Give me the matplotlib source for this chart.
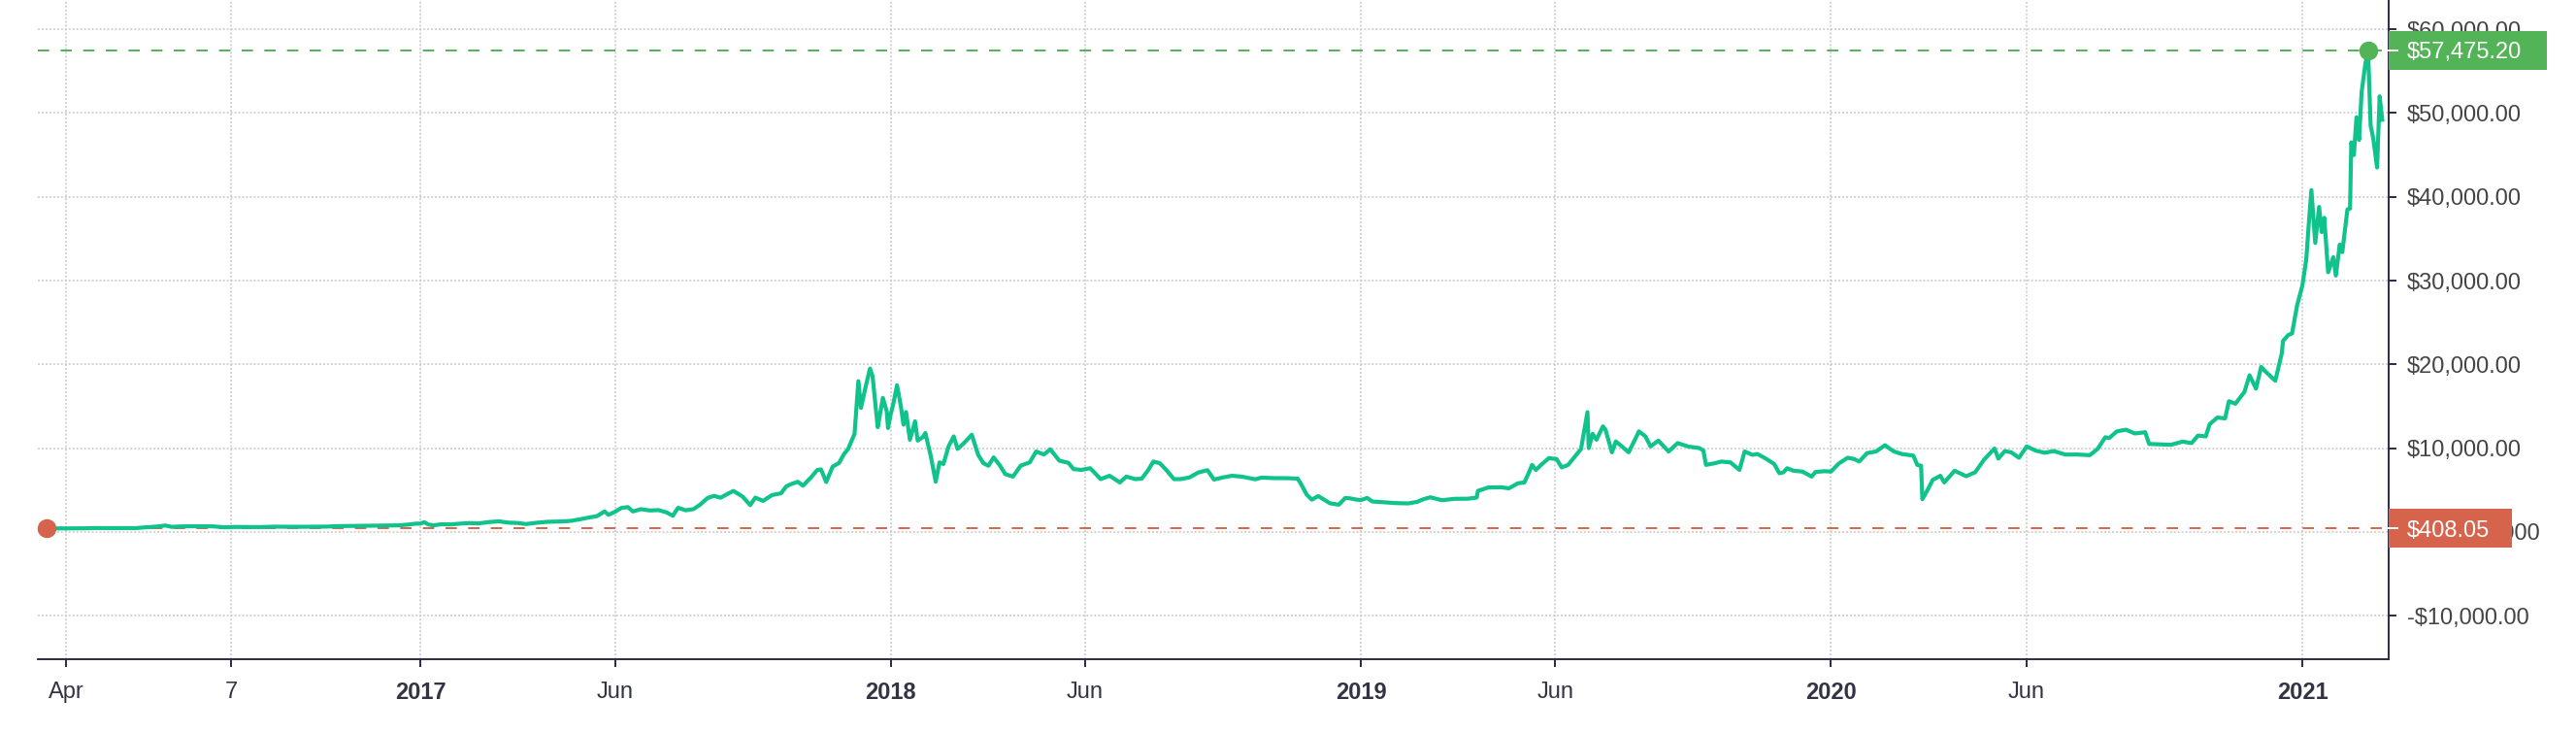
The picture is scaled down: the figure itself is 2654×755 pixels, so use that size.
import matplotlib
matplotlib.use("Agg")

import matplotlib.dates as mdates
import matplotlib.pyplot as plt
import pandas as pd
from matplotlib.patches import Rectangle

# daily-ish closing prices (USD)
dates_2016 = ["2016-03-17", "2016-03-26", "2016-04-05", "2016-04-15", "2016-04-25", "2016-05-05",
              "2016-05-15", "2016-05-25", "2016-05-31", "2016-06-06", "2016-06-12", "2016-06-17",
              "2016-06-22", "2016-06-28", "2016-07-06", "2016-07-14", "2016-07-24", "2016-08-02",
              "2016-08-10", "2016-08-20", "2016-08-30", "2016-09-10", "2016-09-20", "2016-09-30",
              "2016-10-10", "2016-10-20", "2016-10-28", "2016-11-05", "2016-11-15", "2016-11-25",
              "2016-12-05", "2016-12-15", "2016-12-22", "2016-12-28"]
prices_2016 = [408.05, 417, 421, 429, 461, 448, 456, 447, 531, 586, 665, 765, 596, 647, 671, 661,
               661, 547, 592, 581, 575, 623, 610, 609, 617, 631, 688, 703, 712, 738, 765, 780, 865, 976]

dates_2017 = ["2017-01-01", "2017-01-04", "2017-01-07", "2017-01-11", "2017-01-17", "2017-01-24",
              "2017-02-01", "2017-02-08", "2017-02-15", "2017-02-23", "2017-03-03", "2017-03-10",
              "2017-03-17", "2017-03-24", "2017-04-01", "2017-04-10", "2017-04-20", "2017-04-28",
              "2017-05-06", "2017-05-12", "2017-05-18", "2017-05-24", "2017-05-27", "2017-06-01",
              "2017-06-06", "2017-06-11", "2017-06-15", "2017-06-21", "2017-06-28", "2017-07-05",
              "2017-07-11", "2017-07-16", "2017-07-20", "2017-07-26", "2017-08-01", "2017-08-06",
              "2017-08-12", "2017-08-17", "2017-08-22", "2017-08-28", "2017-09-01", "2017-09-08",
              "2017-09-14", "2017-09-18", "2017-09-24", "2017-10-01", "2017-10-08", "2017-10-12",
              "2017-10-16", "2017-10-21", "2017-10-25", "2017-10-31", "2017-11-05", "2017-11-08",
              "2017-11-12", "2017-11-17", "2017-11-22", "2017-11-26", "2017-11-29", "2017-12-04",
              "2017-12-07", "2017-12-09", "2017-12-12", "2017-12-16", "2017-12-18", "2017-12-22",
              "2017-12-24", "2017-12-26", "2017-12-29", "2017-12-30"]
prices_2017 = [998, 1154, 895, 777, 908, 892, 989, 1055, 1010, 1170, 1260, 1110, 1070, 935, 1085,
               1210, 1240, 1320, 1540, 1720, 1880, 2440, 2040, 2400, 2860, 2960, 2440, 2710, 2560,
               2600, 2330, 1930, 2880, 2580, 2720, 3240, 4050, 4300, 4080, 4580, 4890, 4230, 3200,
               4090, 3700, 4400, 4610, 5430, 5720, 5980, 5520, 6470, 7380, 7460, 5950, 7790, 8230,
               9330, 9890, 11700, 18000, 14800, 16900, 19500, 18600, 12500, 14200, 16000, 14400, 12400]

dates_2018 = ["2018-01-01", "2018-01-03", "2018-01-06", "2018-01-09", "2018-01-11", "2018-01-13",
              "2018-01-16", "2018-01-20", "2018-01-22", "2018-01-26", "2018-01-28", "2018-02-01",
              "2018-02-05", "2018-02-08", "2018-02-11", "2018-02-15", "2018-02-19", "2018-02-22",
              "2018-02-27", "2018-03-05", "2018-03-10", "2018-03-14", "2018-03-18", "2018-03-22",
              "2018-03-27", "2018-03-31", "2018-04-06", "2018-04-12", "2018-04-19", "2018-04-24",
              "2018-04-30", "2018-05-05", "2018-05-12", "2018-05-19", "2018-05-23", "2018-05-29",
              "2018-06-05", "2018-06-10", "2018-06-13", "2018-06-20", "2018-06-28", "2018-07-03",
              "2018-07-10", "2018-07-15", "2018-07-20", "2018-07-24", "2018-07-29", "2018-08-03",
              "2018-08-09", "2018-08-14", "2018-08-21", "2018-08-28", "2018-09-04", "2018-09-09",
              "2018-09-16", "2018-09-23", "2018-10-01", "2018-10-11", "2018-10-16", "2018-10-25",
              "2018-11-05", "2018-11-13", "2018-11-16", "2018-11-20", "2018-11-24", "2018-11-29",
              "2018-12-03", "2018-12-08", "2018-12-15", "2018-12-20", "2018-12-24", "2018-12-28"]
prices_2018 = [14000, 15200, 17500, 15000, 12800, 14300, 11000, 13200, 10900, 11300, 11800, 9200,
               6000, 8300, 8100, 10200, 11400, 9900, 10600, 11600, 9200, 8200, 7900, 8900, 7900,
               6900, 6600, 7900, 8300, 9600, 9240, 9860, 8500, 8250, 7500, 7400, 7600, 6800, 6300,
               6700, 5900, 6600, 6300, 6360, 7380, 8400, 8200, 7400, 6300, 6300, 6500, 7100, 7370,
               6250, 6500, 6700, 6590, 6280, 6480, 6420, 6410, 6360, 5620, 4450, 3850, 4280, 3900,
               3420, 3250, 4050, 4000, 3870]

dates_2019 = ["2019-01-01", "2019-01-06", "2019-01-10", "2019-01-20", "2019-01-28", "2019-02-07",
              "2019-02-14", "2019-02-19", "2019-02-24", "2019-03-05", "2019-03-15", "2019-03-25",
              "2019-04-01", "2019-04-02", "2019-04-10", "2019-04-20", "2019-04-26", "2019-05-03",
              "2019-05-08", "2019-05-11", "2019-05-14", "2019-05-17", "2019-05-21", "2019-05-27",
              "2019-06-02", "2019-06-06", "2019-06-11", "2019-06-16", "2019-06-21", "2019-06-26",
              "2019-06-27", "2019-06-30", "2019-07-03", "2019-07-08", "2019-07-10", "2019-07-15",
              "2019-07-18", "2019-07-22", "2019-07-28", "2019-08-05", "2019-08-10", "2019-08-14",
              "2019-08-20", "2019-08-28", "2019-09-04", "2019-09-12", "2019-09-21", "2019-09-24",
              "2019-09-26", "2019-10-03", "2019-10-08", "2019-10-15", "2019-10-22", "2019-10-26",
              "2019-11-01", "2019-11-05", "2019-11-12", "2019-11-18", "2019-11-22", "2019-11-25",
              "2019-11-28", "2019-12-03", "2019-12-10", "2019-12-17", "2019-12-20", "2019-12-27"]
prices_2019 = [3800, 4050, 3630, 3530, 3440, 3400, 3600, 3920, 4130, 3780, 3950, 3960, 4100, 4900,
               5300, 5330, 5200, 5800, 5900, 6900, 8000, 7400, 8000, 8800, 8700, 7700, 8000, 8950,
               9900, 14300, 10000, 11700, 11000, 12600, 12200, 9500, 10800, 10300, 9500, 12000,
               11400, 10200, 10900, 9600, 10600, 10200, 10000, 9700, 8000, 8200, 8400, 8300, 7400,
               9600, 9200, 9300, 8700, 8100, 7000, 7100, 7600, 7300, 7200, 6600, 7150, 7250]

dates_2020 = ["2020-01-01", "2020-01-07", "2020-01-14", "2020-01-19", "2020-01-23", "2020-01-29",
              "2020-02-05", "2020-02-12", "2020-02-16", "2020-02-19", "2020-02-25", "2020-03-05",
              "2020-03-08", "2020-03-11", "2020-03-12", "2020-03-16", "2020-03-20", "2020-03-26",
              "2020-03-29", "2020-04-06", "2020-04-15", "2020-04-22", "2020-04-29", "2020-05-07",
              "2020-05-10", "2020-05-15", "2020-05-20", "2020-05-26", "2020-06-01", "2020-06-08",
              "2020-06-15", "2020-06-22", "2020-07-01", "2020-07-10", "2020-07-20", "2020-07-26",
              "2020-08-01", "2020-08-04", "2020-08-10", "2020-08-17", "2020-08-24", "2020-09-01",
              "2020-09-04", "2020-09-12", "2020-09-21", "2020-09-30", "2020-10-07", "2020-10-12",
              "2020-10-18", "2020-10-21", "2020-10-27", "2020-11-02", "2020-11-05", "2020-11-10",
              "2020-11-17", "2020-11-21", "2020-11-26", "2020-11-30", "2020-12-03", "2020-12-11",
              "2020-12-16", "2020-12-17", "2020-12-21", "2020-12-24", "2020-12-28"]
prices_2020 = [7200, 8150, 8850, 8700, 8400, 9400, 9600, 10350, 9900, 9600, 9300, 9100, 8000, 7900,
               3900, 5000, 6200, 6700, 5900, 7300, 6650, 7120, 8650, 9950, 8750, 9650, 9500, 8850,
               10200, 9700, 9450, 9650, 9230, 9240, 9160, 9900, 11300, 11200, 12000, 12200, 11750,
               11900, 10500, 10450, 10400, 10780, 10600, 11500, 11400, 12850, 13650, 13550, 15600,
               15300, 16700, 18700, 17100, 19700, 19200, 18050, 21300, 22800, 23500, 23700, 27100]

dates_2021 = ["2021-01-01", "2021-01-04", "2021-01-06", "2021-01-08", "2021-01-11", "2021-01-14",
              "2021-01-16", "2021-01-18", "2021-01-21", "2021-01-25", "2021-01-27", "2021-01-30",
              "2021-02-01", "2021-02-05", "2021-02-07", "2021-02-08", "2021-02-10", "2021-02-12",
              "2021-02-14", "2021-02-16", "2021-02-19", "2021-02-21", "2021-02-23", "2021-02-25",
              "2021-02-28", "2021-03-02", "2021-03-04"]
prices_2021 = [29400, 32500, 36800, 40800, 34500, 38800, 35800, 37500, 31000, 32800, 30600, 34300,
               33400, 38500, 38600, 46500, 45000, 49500, 46800, 52500, 56000, 57475.20, 48500,
               47000, 43500, 52000, 49200]

max_date, max_price = "2021-02-21", 57475.20
min_date, min_price = "2016-03-17", 408.05

x_tick_dates = ["2016-04-01", "2016-08-07", "2017-01-01", "2017-06-01", "2018-01-01", "2018-06-01",
                "2019-01-01", "2019-06-01", "2020-01-01", "2020-06-01", "2021-01-01"]
x_tick_labels = ["Apr", "7", "2017", "Jun", "2018", "Jun", "2019", "Jun", "2020", "Jun", "2021"]
y_ticks = [-10000, 0, 10000, 20000, 30000, 40000, 50000, 60000]
y_tick_labels = ["-$10,000.00", "$0.00000000", "$10,000.00", "$20,000.00", "$30,000.00",
                 "$40,000.00", "$50,000.00", "$60,000.00"]

LINE = "#10c28b"
GREEN = "#52b357"
RED = "#d6634b"
NAVY = "#2b2b45"

W, H = 2654, 755
AX_LEFT, AX_RIGHT, AX_BOTTOM = 39, 2461, 679


def price_label(ax, value, text, color, box_px):
    ax_w = AX_RIGHT - AX_LEFT
    y_per_px = (63500 - (-15200)) / AX_BOTTOM
    trans = ax.get_yaxis_transform()
    h = 40 * y_per_px
    ax.add_patch(Rectangle((1.0, value - h / 2), box_px / ax_w, h, transform=trans,
                           facecolor=color, edgecolor="none", clip_on=False, zorder=6))
    ax.plot([1.0, 1.0 + 9 / ax_w], [value, value], transform=trans, color="white",
            lw=1.4, clip_on=False, zorder=7)
    ax.text(1.0 + 19 / ax_w, value, text, transform=trans, color="white", fontsize=17,
            ha="left", va="center_baseline", clip_on=False, zorder=7)


def main():
    plt.rcParams["font.family"] = ["Liberation Sans", "DejaVu Sans"]

    dates = pd.to_datetime(dates_2016 + dates_2017 + dates_2018 + dates_2019 + dates_2020 + dates_2021)
    prices = prices_2016 + prices_2017 + prices_2018 + prices_2019 + prices_2020 + prices_2021

    fig = plt.figure(figsize=(W / 100, H / 100), dpi=100)
    ax = fig.add_axes([AX_LEFT / W, (H - AX_BOTTOM) / H, (AX_RIGHT - AX_LEFT) / W, AX_BOTTOM / H])

    ax.plot(dates, prices, color=LINE, lw=3.0, solid_joinstyle="round", zorder=3)

    ax.axhline(max_price, color=GREEN, lw=1.4, linestyle=(0, (6, 6)), zorder=2)
    ax.axhline(min_price, color=RED, lw=1.4, linestyle=(0, (6, 6)), zorder=2)
    ax.plot(pd.to_datetime([max_date]), [max_price], "o", ms=13, color=GREEN, zorder=4, clip_on=False)
    ax.plot(pd.to_datetime([min_date]), [min_price], "o", ms=13, color=RED, zorder=4, clip_on=False)

    ax.set_xlim(mdates.date2num(pd.Timestamp("2016-03-10")), mdates.date2num(pd.Timestamp("2021-03-09")))
    ax.set_ylim(-15200, 63500)

    ax.set_xticks(mdates.date2num(pd.to_datetime(x_tick_dates)))
    ax.set_xticklabels(x_tick_labels)
    for label in ax.get_xticklabels():
        if label.get_text().isdigit() and len(label.get_text()) == 4:
            label.set_fontweight("bold")

    ax.yaxis.tick_right()
    ax.set_yticks(y_ticks)
    ax.set_yticklabels(y_tick_labels)

    ax.tick_params(axis="x", length=5.8, width=1.4, color=NAVY, labelsize=17,
                   labelcolor="#333344", pad=11)
    ax.tick_params(axis="y", length=5.8, width=1.4, color=NAVY, labelsize=17,
                   labelcolor="#444444", pad=8)

    ax.grid(True, linestyle=(0, (1.3, 1.3)), color="#c8c8c8", lw=1.1)

    for side in ("left", "top"):
        ax.spines[side].set_visible(False)
    for side in ("right", "bottom"):
        ax.spines[side].set_color(NAVY)
        ax.spines[side].set_linewidth(1.4)

    price_label(ax, max_price, "$57,475.20", GREEN, 163)
    price_label(ax, min_price, "$408.05", RED, 127)

    fig.savefig("out.png", dpi=100)
    plt.close(fig)


if __name__ == "__main__":
    main()
